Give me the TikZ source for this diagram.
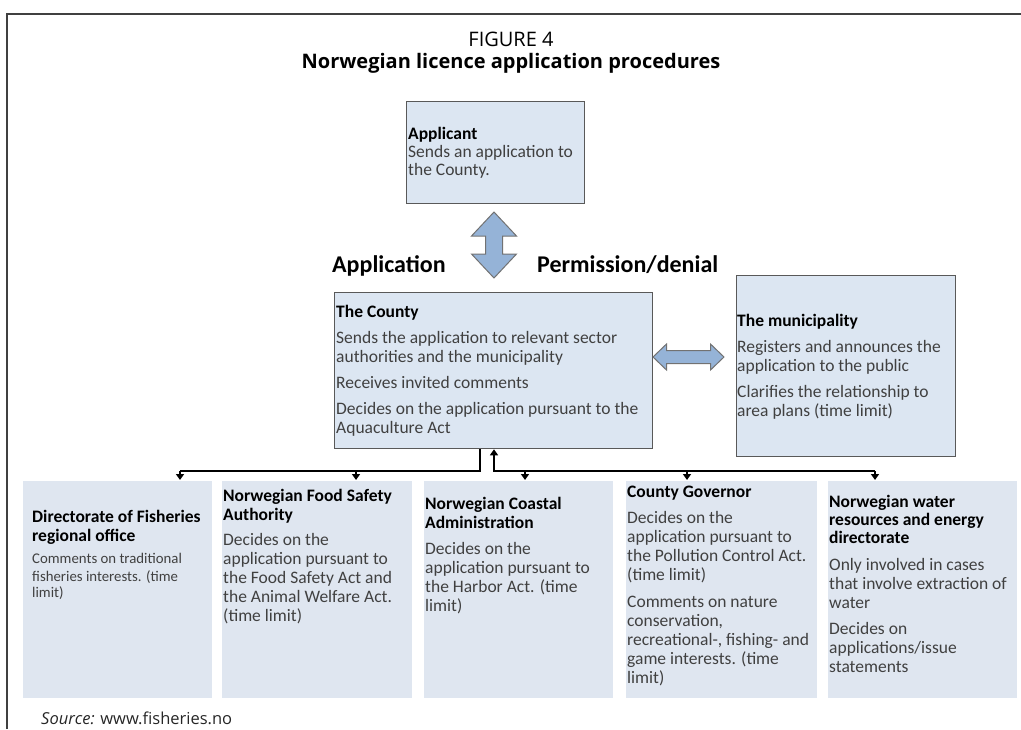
\documentclass[tikz,border=0pt]{standalone}
\usepackage{fontspec}
\setmainfont{Carlito}
\newfontfamily\osans{Open Sans}
\usetikzlibrary{arrows.meta}
\definecolor{boxfill}{HTML}{DCE6F2}
\definecolor{lowfill}{HTML}{DFE6F0}
\definecolor{arrfill}{HTML}{95B3D7}
\definecolor{boxline}{HTML}{595959}
\definecolor{bodytxt}{HTML}{404040}
\definecolor{framecol}{HTML}{404040}
\newcommand\boxhead[1]{{\bfseries\color{black}#1}}
\newcommand\smallbody{\fontsize{14.8}{17}\selectfont}
\begin{document}
\begin{tikzpicture}[x=1pt,y=-1pt,
  topbox/.style={draw=boxline, line width=1.3pt, fill=boxfill, inner sep=0pt, anchor=north west},
  lowbox/.style={fill=lowfill, inner sep=0pt, anchor=north west, minimum height=217pt},
  txt/.style={anchor=north west, inner sep=0pt, align=left, text=bodytxt, font=\fontsize{17.5}{19}\selectfont},
  biglabel/.style={anchor=base west, inner sep=0pt, font=\bfseries\fontsize{24}{26}\selectfont, text=black},
  bus/.style={line width=2.6pt, black, line join=miter},
  tip/.style={-{Triangle[width=8pt,length=6pt]}},
  blockarrow/.style={draw=boxline!85, line width=1pt, fill=arrfill, line join=miter}
]
\useasboundingbox (0,0) rectangle (1021,729);

% frame
\draw[framecol, line width=1.6pt] (7,729) -- (7,14) -- (1021,14);

% titles
\node[inner sep=0pt, font=\osans\fontsize{20}{24}\selectfont, anchor=base] (fig) at (511,46) {FIGURE 4};
\node[inner sep=0pt, font=\osans\bfseries\fontsize{20}{24}\selectfont, anchor=base] (ttl) at (511,68) {Norwegian licence application procedures};

% top boxes
\node[topbox, minimum width=178pt, minimum height=102pt] (app) at (406,101) {};
\node[txt, font=\fontsize{17.5}{18}\selectfont] (app-t) at (408,127) {\boxhead{Applicant}\\Sends an application to\\the County.};

\node[topbox, minimum width=318pt, minimum height=156pt] (county) at (334,292) {};
\node[txt] (county-t) at (336,305.5) {\boxhead{The County}\\[7pt]Sends the application to relevant sector\\authorities and the municipality\\[7pt]Receives invited comments\\[7pt]Decides on the application pursuant to the\\Aquaculture Act};

\node[topbox, minimum width=219pt, minimum height=181pt] (muni) at (736,275) {};
\node[txt] (muni-t) at (737,314.5) {\boxhead{The municipality}\\[7pt]Registers and announces the\\application to the public\\[7pt]Clarifies the relationship to\\area plans (time limit)};

% labels
\node[biglabel] (lapp) at (332,272) {Application};
\node[biglabel] (lperm) at (537,272) {Permission/denial};

% block arrows
\coordinate (va) at (494,245);
\draw[blockarrow, shift={(va)}] (0,-33) -- (22.5,-9) -- (8.5,-9) -- (8.5,9) -- (22.5,9) -- (0,33) -- (-22.5,9) -- (-8.5,9) -- (-8.5,-9) -- (-22.5,-9) -- cycle;
\coordinate (ha) at (688.5,357);
\draw[blockarrow, shift={(ha)}] (-35.5,0) -- (-22,-13) -- (-22,-6.5) -- (22,-6.5) -- (22,-13) -- (35.5,0) -- (22,13) -- (22,6.5) -- (-22,6.5) -- (-22,13) -- cycle;

% bottom boxes
\node[lowbox, minimum width=189pt] (b1) at (23,481) {};
\node[lowbox, minimum width=190pt] (b2) at (222,481) {};
\node[lowbox, minimum width=189pt] (b3) at (424,481) {};
\node[lowbox, minimum width=191pt] (b4) at (626,481) {};
\node[lowbox, minimum width=189pt] (b5) at (828,481) {};

\node[txt] (b1-t) at (32,510.5) {\boxhead{Directorate of Fisheries}\\\boxhead{regional office}\\[3pt]\smallbody Comments on traditional\\[-1.5pt]\smallbody fisheries interests. (time\\[-3pt]\smallbody limit)};
\node[txt] (b2-t) at (223,489.5) {\boxhead{Norwegian Food Safety}\\\boxhead{Authority}\\[6pt]Decides on the\\application pursuant to\\the Food Safety Act and\\the Animal Welfare Act.\\(time limit)};
\node[txt] (b3-t) at (425,497.5) {\boxhead{Norwegian Coastal}\\\boxhead{Administration}\\[7pt]Decides on the\\application pursuant to\\the Harbor Act. (time\\limit)};
\node[txt] (b4-t) at (627,485.5) {\boxhead{County Governor}\\[7pt]Decides on the\\application pursuant to\\the Pollution Control Act.\\(time limit)\\[8pt]Comments on nature\\conservation,\\recreational-, fishing- and\\game interests. (time\\limit)};
\node[txt] (b5-t) at (829,495.5) {\boxhead{Norwegian water}\\[-1pt]\boxhead{resources and energy}\\[-1pt]\boxhead{directorate}\\[8pt]Only involved in cases\\that involve extraction of\\water\\[7pt]Decides on\\applications/issue\\statements};

% connectors
\coordinate (jl) at (480,471);
\coordinate (jr) at (494,471);
\coordinate (t1) at (180,480);
\coordinate (t2) at (356,480);
\coordinate (t3) at (525,480);
\coordinate (t4) at (687,480);
\coordinate (t5) at (875,480);
\draw[bus] (county.south -| jl) -- (jl) -- (jl -| t1);
\draw[bus, tip] (jl -| t1) -- (t1);
\draw[bus, tip] (jl -| t2) -- (t2);
\draw[bus, {Triangle[width=8pt,length=6pt]}-] (county.south -| jr) -- (jr) -- (jr -| t5);
\draw[bus, tip] (jr -| t3) -- (t3);
\draw[bus, tip] (jr -| t4) -- (t4);
\draw[bus, tip] (jr -| t5) -- (t5);

% source
\node[anchor=base west, inner sep=0pt, font=\osans\fontsize{16.5}{20}\selectfont, text=black!85] (src) at (41,724) {\textit{Source:} www.fisheries.no};
\end{tikzpicture}
\end{document}
